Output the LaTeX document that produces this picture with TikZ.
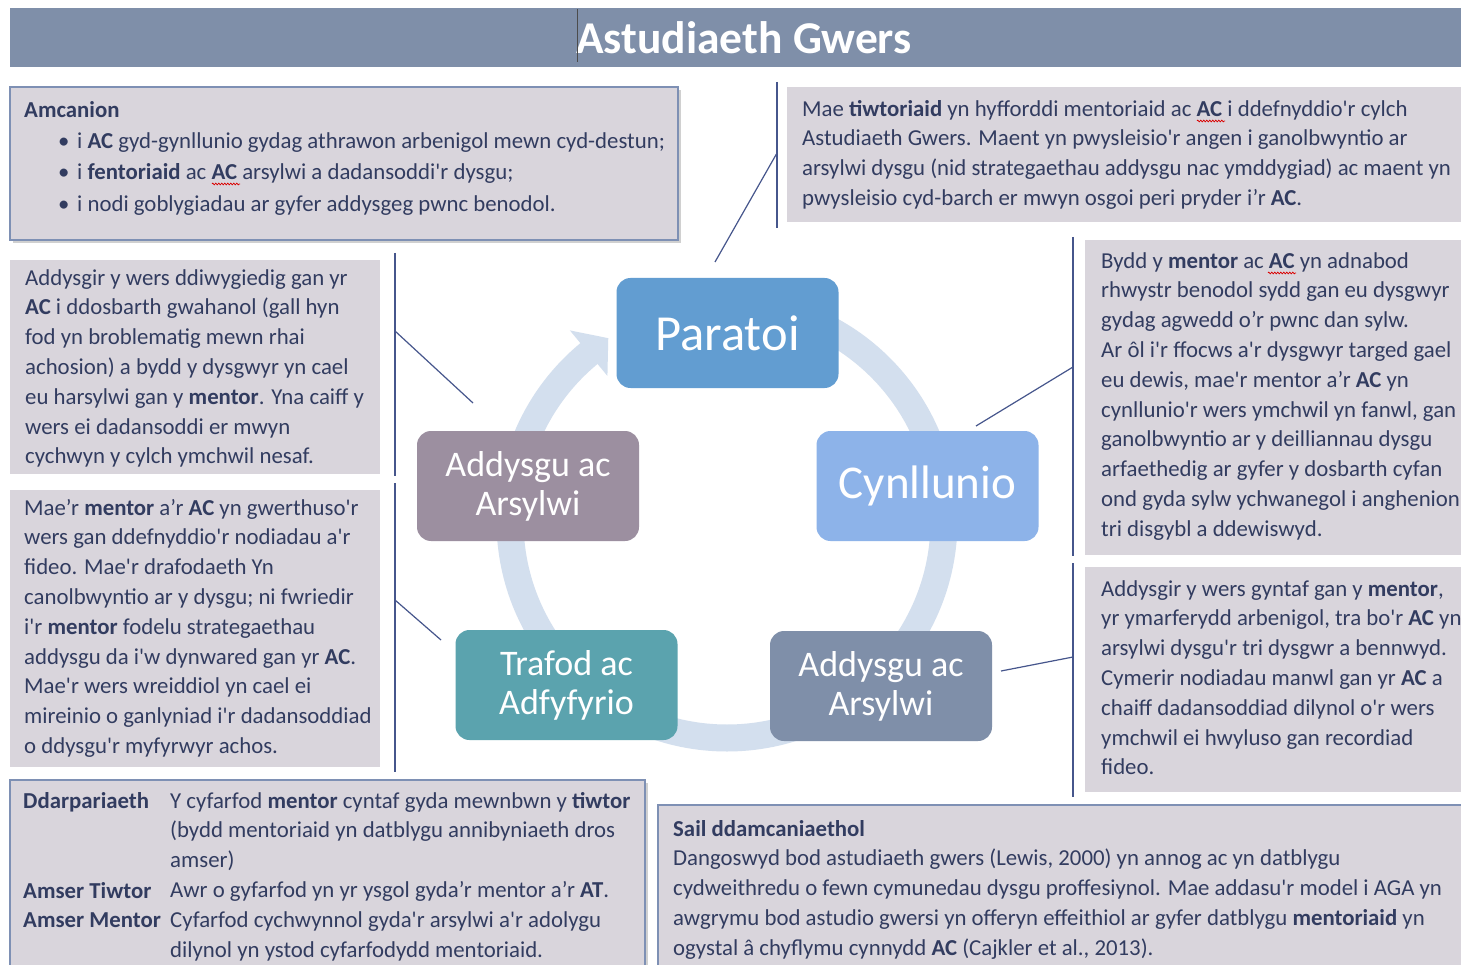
\documentclass[tikz,border=0pt]{standalone}
\usepackage{fontspec}
\setmainfont{Carlito}[Ligatures=TeXOff]
\usetikzlibrary{shadows,calc,decorations.pathmorphing}
\definecolor{banner}{RGB}{127,143,169}
\definecolor{panelfill}{RGB}{217,213,220}
\definecolor{panelline}{RGB}{126,144,180}
\definecolor{txtc}{RGB}{50,60,96}
\definecolor{linec}{RGB}{70,86,140}
\definecolor{ringc}{RGB}{211,223,238}
\definecolor{cParatoi}{RGB}{98,157,209}
\definecolor{cCyn}{RGB}{141,179,233}
\definecolor{cPurp}{RGB}{156,143,160}
\definecolor{cTeal}{RGB}{91,163,174}
\definecolor{cSlate}{RGB}{127,143,169}
\begin{document}
\begin{tikzpicture}[x=1pt,y=-1pt,
  panel/.style={fill=panelfill,draw=none,inner sep=0},
  framedpanel/.style={fill=panelfill,draw=panelline,line width=1.1pt,inner sep=0,
    drop shadow={shadow xshift=3pt,shadow yshift=-3pt,opacity=0.3,fill=black!60}},
  body/.style={text=txtc,align=left,inner sep=0,anchor=north west,
    font=\fontsize{22.8}{29.8}\selectfont},
  cyc/.style={rounded corners=14pt,minimum width=222pt,minimum height=110pt,
    text=white,align=center,inner sep=0},
  cycsmall/.style={cyc,font=\fontsize{36}{39}\selectfont},
  bracket/.style={draw=linec,line width=1.2pt},
  squiggle/.style={draw=red!85!black,line width=0.7pt,decorate,
    decoration={zigzag,segment length=3pt,amplitude=0.9pt}},
]
\useasboundingbox (0,0) rectangle (1461,965);
\fill[white] (0,0) rectangle (1461,965);

% title banner
\node[fill=banner,minimum width=1451pt,minimum height=59pt,inner sep=0] (banner) at (735.5,37.5) {};
\node[text=white,font=\fontsize{45.5}{50}\selectfont\bfseries,inner sep=0] (title) at (744,38) {Astudiaeth Gwers};
\coordinate (curA) at (577,9);
\coordinate (curB) at (577,62);
\draw[black!70,line width=0.6pt] (curA) -- (curB);

% panels
\node[framedpanel,minimum width=668pt,minimum height=153pt] (amcBox) at (344,163.5) {};
\node[panel,minimum width=674pt,minimum height=135pt] (tutBox) at (1124,154.5) {};
\node[panel,minimum width=370pt,minimum height=214pt] (lBox1) at (195,367) {};
\node[panel,minimum width=370pt,minimum height=277pt] (lBox2) at (195,628.5) {};
\node[panel,minimum width=376pt,minimum height=315pt] (rBox1) at (1273,397.5) {};
\node[panel,minimum width=376pt,minimum height=225pt] (rBox2) at (1273,679.5) {};
\node[framedpanel,minimum width=635pt,minimum height=200pt] (provBox) at (327.5,880) {};
\node[framedpanel,minimum width=815pt,minimum height=175pt] (theoBox) at (1065.5,892.5) {};

% ring with arrow
\coordinate (C) at (727,521);
\draw[ringc,line width=27pt] ($(C)+(-90:217)$) arc[start angle=-90,end angle=231,radius=217];
\fill[ringc] ($(C)+(230.5:247)$) -- ($(C)+(237:218)$) -- ($(C)+(230.5:188)$) -- cycle;

% cycle nodes
\node[cyc,fill=cParatoi,font=\fontsize{50.5}{54}\selectfont] (paratoi) at (727.5,333) {Paratoi};
\node[cyc,fill=cCyn,font=\fontsize{47}{52}\selectfont] (cynllunio) at (927.5,486) {Cynllunio};
\node[cycsmall,fill=cPurp] (addL) at (528,486) {Addysgu ac\\Arsylwi};
\node[cycsmall,fill=cTeal] (trafod) at (566.5,685) {Trafod ac\\Adfyfyrio};
\node[cycsmall,fill=cSlate] (addR) at (881,686) {Addysgu ac\\Arsylwi};

% brackets
\coordinate (bT1) at (777,82); \coordinate (bT2) at (777,228); \coordinate (bTm) at (777,153); \coordinate (bTe) at (715,262);
\draw[bracket] (bT1) -- (bT2); \draw[bracket] (bTm) -- (bTe);
\coordinate (bL1) at (395,253); \coordinate (bL2) at (395,476); \coordinate (bLm) at (395,331); \coordinate (bLe) at (473,403);
\draw[bracket] (bL1) -- (bL2); \draw[bracket] (bLm) -- (bLe);
\coordinate (bM1) at (395,483); \coordinate (bM2) at (395,772); \coordinate (bMm) at (395,600); \coordinate (bMe) at (441,640);
\draw[bracket] (bM1) -- (bM2); \draw[bracket] (bMm) -- (bMe);
\coordinate (bR1) at (1073,237); \coordinate (bR2) at (1073,556); \coordinate (bRm) at (1073,367); \coordinate (bRe) at (976,426);
\draw[bracket] (bR1) -- (bR2); \draw[bracket] (bRm) -- (bRe);
\coordinate (bS1) at (1073,563); \coordinate (bS2) at (1073,797); \coordinate (bSm) at (1073,657); \coordinate (bSe) at (1001,671);
\draw[bracket] (bS1) -- (bS2); \draw[bracket] (bSm) -- (bSe);

% texts
\node[body] (amcHead) at (24,96) {\strut\textbf{Amcanion}};
\node[body,font=\fontsize{22.8}{31.5}\selectfont] (amcList) at (58,126) {\strut\makebox[19pt][l]{•}i \textbf{AC} gyd-gynllunio gydag athrawon arbenigol mewn cyd-destun;\\
\makebox[19pt][l]{•}i \textbf{fentoriaid} ac \textbf{AC} arsylwi a dadansoddi'r dysgu;\\
\makebox[19pt][l]{•}i nodi goblygiadau ar gyfer addysgeg pwnc benodol.};

\node[body] (tutTxt) at (802,95) {\strut Mae \textbf{tiwtoriaid}  yn hyfforddi mentoriaid ac \textbf{AC} i ddefnyddio'r cylch\\
Astudiaeth Gwers. Maent yn pwysleisio'r angen i ganolbwyntio ar\\
arsylwi dysgu (nid strategaethau addysgu nac ymddygiad) ac maent yn\\
pwysleisio cyd-barch er mwyn osgoi peri pryder i’r \textbf{AC}.};

\node[body] (l1Txt) at (25,264) {\strut Addysgir y wers ddiwygiedig gan yr\\
\textbf{AC} i ddosbarth gwahanol (gall hyn\\
fod yn broblematig mewn rhai\\
achosion) a bydd y dysgwyr yn cael\\
eu harsylwi gan y \textbf{mentor}. Yna caiff y\\
wers ei dadansoddi er mwyn\\
cychwyn y  cylch ymchwil nesaf.};

\node[body] (l2Txt) at (24,494) {\strut Mae’r \textbf{mentor} a’r \textbf{AC} yn  gwerthuso'r\\
wers gan ddefnyddio'r nodiadau a'r\\
fideo. Mae'r drafodaeth Yn\\
canolbwyntio ar y dysgu; ni fwriedir\\
i'r \textbf{mentor} fodelu strategaethau\\
addysgu da i'w dynwared gan yr \textbf{AC}.\\
Mae'r wers wreiddiol yn cael ei\\
mireinio o ganlyniad i'r dadansoddiad\\
o ddysgu'r myfyrwyr achos.};

\node[body] (r1Txt) at (1101,247) {\strut Bydd y \textbf{mentor} ac \textbf{AC} yn adnabod\\
rhwystr benodol sydd gan eu dysgwyr\\
gydag agwedd o’r pwnc dan sylw.\\
Ar ôl i'r ffocws a'r dysgwyr targed gael\\
eu dewis, mae'r mentor a’r \textbf{AC} yn\\
cynllunio'r wers ymchwil yn fanwl, gan\\
ganolbwyntio ar y deilliannau dysgu\\
arfaethedig ar gyfer y dosbarth cyfan\\
ond gyda sylw ychwanegol i anghenion\\
tri disgybl a ddewiswyd.};

\node[body] (r2Txt) at (1101,575) {\strut Addysgir y wers gyntaf gan y \textbf{mentor},\\
yr ymarferydd arbenigol, tra bo'r \textbf{AC} yn\\
arsylwi dysgu'r tri dysgwr a bennwyd.\\
Cymerir nodiadau manwl gan yr \textbf{AC} a\\
chaiff dadansoddiad dilynol o'r wers\\
ymchwil ei hwyluso gan recordiad\\
fideo.};

\node[body] (provLab1) at (23,787) {\strut\textbf{Ddarpariaeth}};
\node[body] (provLab2) at (23,877) {\strut\textbf{Amser Tiwtor}\\\textbf{Amser Mentor}};
\node[body] (provTxt) at (170,787) {\strut Y cyfarfod \textbf{mentor} cyntaf gyda mewnbwn y \textbf{tiwtor}\\
(bydd mentoriaid yn datblygu annibyniaeth dros\\
amser)\\
Awr o gyfarfod yn yr ysgol gyda’r mentor a’r \textbf{AT}.\\
Cyfarfod cychwynnol gyda'r arsylwi a'r adolygu\\
dilynol yn ystod cyfarfodydd mentoriaid.};

\node[body] (theoTxt) at (673,815) {\strut\textbf{Sail ddamcaniaethol}\\
Dangoswyd bod astudiaeth gwers (Lewis, 2000) yn annog ac yn datblygu\\
cydweithredu o fewn cymunedau dysgu proffesiynol. Mae addasu'r model i AGA yn\\
awgrymu bod astudio gwersi yn offeryn effeithiol ar gyfer datblygu \textbf{mentoriaid} yn\\
ogystal â chyflymu cynnydd \textbf{AC} (Cajkler et al., 2013).};

% spell-check marks
\coordinate (sqA1) at (212,184); \coordinate (sqA2) at (240,184);
\coordinate (sqB1) at (1197,121); \coordinate (sqB2) at (1225,121);
\coordinate (sqC1) at (1268,273); \coordinate (sqC2) at (1296,273);
\draw[squiggle] (sqA1) -- (sqA2);
\draw[squiggle] (sqB1) -- (sqB2);
\draw[squiggle] (sqC1) -- (sqC2);
\end{tikzpicture}
\end{document}
